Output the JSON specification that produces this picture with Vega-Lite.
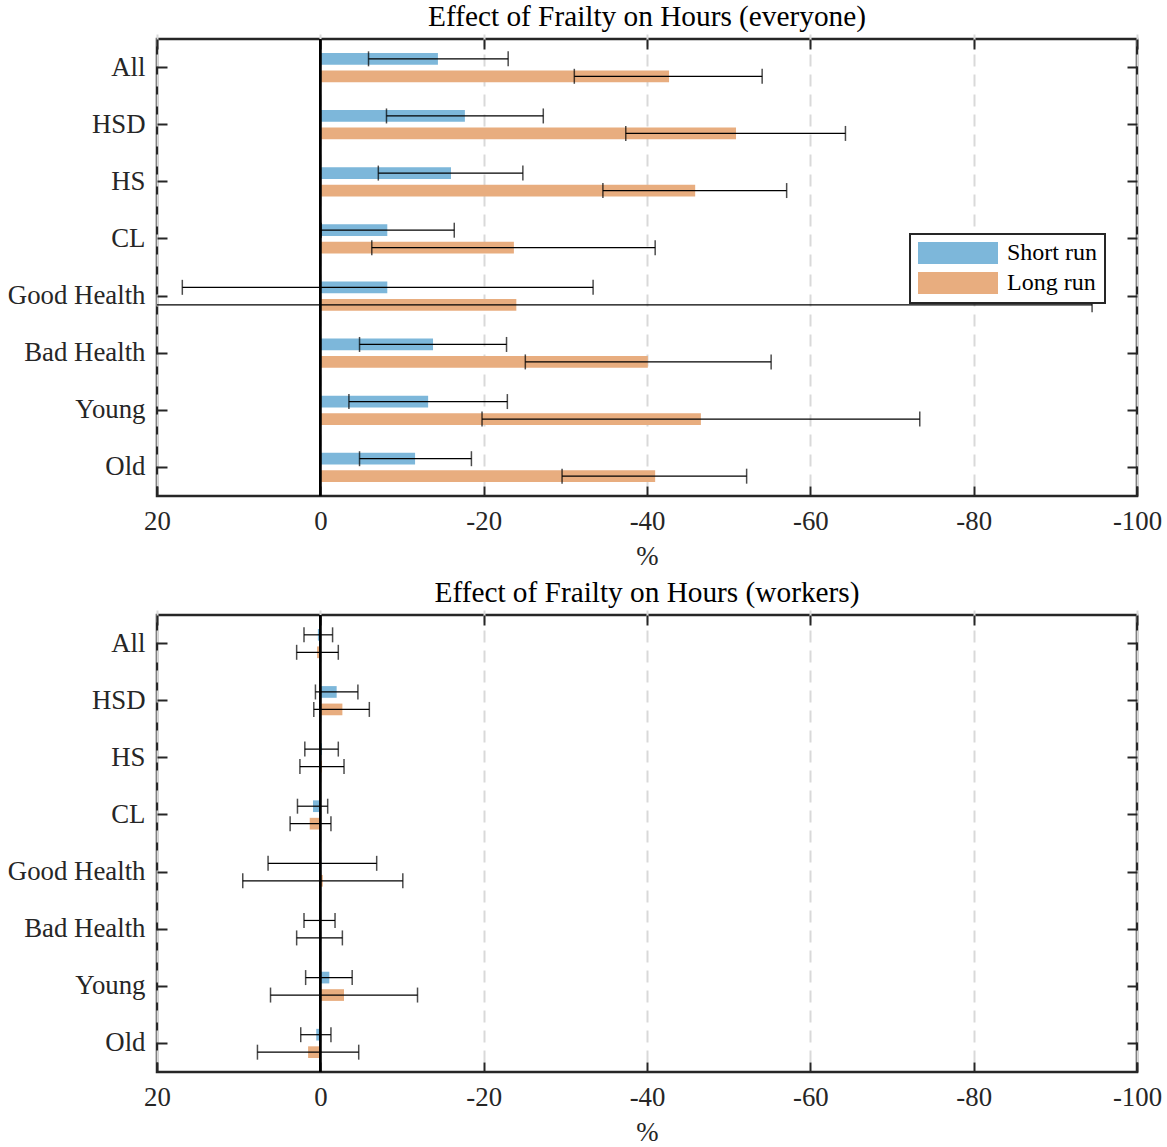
{
  "$schema": "https://vega.github.io/schema/vega-lite/v6.json",
  "padding": {"left": 6, "top": 1, "right": 3, "bottom": 0},
  "background": "white",
  "config": {
    "font": "Liberation Serif",
    "view": {"stroke": "#262626", "strokeWidth": 2.5},
    "axis": {
      "labelFont": "Liberation Serif",
      "labelFontSize": 26.8,
      "labelColor": "#262626",
      "labelFlush": false,
      "tickColor": "#262626",
      "tickWidth": 2,
      "tickSize": 10,
      "offset": -10,
      "domain": false,
      "titleFont": "Liberation Serif",
      "titleFontSize": 26.8,
      "titleFontWeight": "normal",
      "titleColor": "#262626"
    },
    "title": {"font": "Liberation Serif", "fontSize": 29.3, "fontWeight": "normal", "color": "#000000", "baseline": "alphabetic", "offset": 6},
    "legend": {"labelFont": "Liberation Serif"}
  },
  "datasets": {
    "everyone": [
      {"group": "All", "run": "Short run", "value": -14.4, "lo": -5.9, "hi": -23.0},
      {"group": "All", "run": "Long run", "value": -42.7, "lo": -31.1, "hi": -54.1},
      {"group": "HSD", "run": "Short run", "value": -17.7, "lo": -8.1, "hi": -27.3},
      {"group": "HSD", "run": "Long run", "value": -50.9, "lo": -37.4, "hi": -64.3},
      {"group": "HS", "run": "Short run", "value": -16.0, "lo": -7.1, "hi": -24.8},
      {"group": "HS", "run": "Long run", "value": -45.9, "lo": -34.6, "hi": -57.1},
      {"group": "CL", "run": "Short run", "value": -8.2, "lo": -0.1, "hi": -16.4},
      {"group": "CL", "run": "Long run", "value": -23.7, "lo": -6.3, "hi": -41.0},
      {"group": "Good Health", "run": "Short run", "value": -8.2, "lo": 16.9, "hi": -33.4},
      {"group": "Good Health", "run": "Long run", "value": -24.0, "lo": 46.5, "hi": -94.5},
      {"group": "Bad Health", "run": "Short run", "value": -13.8, "lo": -4.8, "hi": -22.8},
      {"group": "Bad Health", "run": "Long run", "value": -40.1, "lo": -25.1, "hi": -55.2},
      {"group": "Young", "run": "Short run", "value": -13.2, "lo": -3.5, "hi": -22.9},
      {"group": "Young", "run": "Long run", "value": -46.6, "lo": -19.8, "hi": -73.4},
      {"group": "Old", "run": "Short run", "value": -11.6, "lo": -4.8, "hi": -18.5},
      {"group": "Old", "run": "Long run", "value": -41.0, "lo": -29.6, "hi": -52.2}
    ],
    "workers": [
      {"group": "All", "run": "Short run", "value": 0.3, "lo": 2.0, "hi": -1.5},
      {"group": "All", "run": "Long run", "value": 0.4, "lo": 2.9, "hi": -2.2},
      {"group": "HSD", "run": "Short run", "value": -2.0, "lo": 0.6, "hi": -4.6},
      {"group": "HSD", "run": "Long run", "value": -2.7, "lo": 0.8, "hi": -6.0},
      {"group": "HS", "run": "Short run", "value": -0.2, "lo": 1.9, "hi": -2.2},
      {"group": "HS", "run": "Long run", "value": -0.2, "lo": 2.5, "hi": -2.9},
      {"group": "CL", "run": "Short run", "value": 0.9, "lo": 2.8, "hi": -0.9},
      {"group": "CL", "run": "Long run", "value": 1.3, "lo": 3.7, "hi": -1.3},
      {"group": "Good Health", "run": "Short run", "value": -0.1, "lo": 6.4, "hi": -6.9},
      {"group": "Good Health", "run": "Long run", "value": -0.3, "lo": 9.5, "hi": -10.1},
      {"group": "Bad Health", "run": "Short run", "value": 0.1, "lo": 2.0, "hi": -1.8},
      {"group": "Bad Health", "run": "Long run", "value": 0.1, "lo": 2.9, "hi": -2.7},
      {"group": "Young", "run": "Short run", "value": -1.1, "lo": 1.8, "hi": -3.9},
      {"group": "Young", "run": "Long run", "value": -2.9, "lo": 6.1, "hi": -11.9},
      {"group": "Old", "run": "Short run", "value": 0.5, "lo": 2.4, "hi": -1.3},
      {"group": "Old", "run": "Long run", "value": 1.5, "lo": 7.7, "hi": -4.7}
    ]
  },
  "spacing": 5,
  "resolve": {"scale": {"color": "independent"}, "legend": {"color": "independent"}},
  "vconcat": [
    {
      "title": "Effect of Frailty on Hours (everyone)",
      "width": 980,
      "height": 457,
      "data": {"name": "everyone"},
      "resolve": {"axis": {"x": "independent", "y": "independent"}},
      "layer": [
        {
          "mark": {"type": "bar", "clip": true},
          "encoding": {
            "x": {"field": "value", "type": "quantitative", "title": "%",
              "scale": {"domain": [-100, 20], "reverse": true, "nice": false, "zero": false},
              "axis": {"values": [20, 0, -20, -40, -60, -80, -100], "labelExpr": "datum.value < 0 ? '-' + abs(datum.value) : '' + datum.value", "grid": true, "gridDash": [12, 8], "gridColor": "#d9d9d9", "gridWidth": 2, "labelPadding": 12, "titlePadding": 9}},
            "y": {"field": "group", "type": "nominal", "title": null,
              "scale": {"domain": ["All", "HSD", "HS", "CL", "Good Health", "Bad Health", "Young", "Old"], "paddingInner": 0, "paddingOuter": 0},
              "axis": {"labelPadding": 12}},
            "yOffset": {"field": "run", "type": "nominal", "scale": {"domain": ["Short run", "Long run"], "paddingInner": 0.33, "paddingOuter": 0.8}},
            "color": {"field": "run", "type": "nominal",
              "scale": {"domain": ["Short run", "Long run"], "range": ["#7DB7DA", "#E8AD7F"]},
              "legend": {"orient": "none", "legendX": 753, "legendY": 195, "title": null,
                "symbolType": "M-1,-0.275H1V0.275H-1Z", "symbolSize": 6400, "symbolStrokeWidth": 0, "symbolOpacity": 1,
                "labelFontSize": 24, "labelColor": "#000000", "labelOffset": 9, "strokeColor": "#262626", "fillColor": "white",
                "padding": 8, "rowPadding": 6, "clipHeight": 22,
                "encode": {"legend": {"update": {"strokeWidth": {"value": 2}}}}}}
          }
        },
        {
          "mark": {"type": "rule", "color": "black", "strokeWidth": 1.2, "clip": true},
          "encoding": {
            "x": {"field": "lo", "type": "quantitative",
              "scale": {"domain": [-100, 20], "reverse": true, "nice": false, "zero": false},
              "axis": {"orient": "top", "values": [20, 0, -20, -40, -60, -80, -100], "labels": false, "title": null, "grid": false}},
            "x2": {"field": "hi"},
            "y": {"field": "group", "type": "nominal", "scale": {"domain": ["All", "HSD", "HS", "CL", "Good Health", "Bad Health", "Young", "Old"], "paddingInner": 0, "paddingOuter": 0},
              "axis": {"orient": "right", "labels": false, "title": null}},
            "yOffset": {"field": "run", "type": "nominal", "scale": {"domain": ["Short run", "Long run"], "paddingInner": 0.33, "paddingOuter": 0.8}}
          }
        },
        {
          "mark": {"type": "tick", "orient": "vertical", "size": 15, "thickness": 1.5, "color": "black", "clip": true},
          "encoding": {
            "x": {"field": "lo", "type": "quantitative", "axis": null},
            "y": {"field": "group", "type": "nominal", "axis": null},
            "yOffset": {"field": "run", "type": "nominal"}
          }
        },
        {
          "mark": {"type": "tick", "orient": "vertical", "size": 15, "thickness": 1.5, "color": "black", "clip": true},
          "encoding": {
            "x": {"field": "hi", "type": "quantitative", "axis": null},
            "y": {"field": "group", "type": "nominal", "axis": null},
            "yOffset": {"field": "run", "type": "nominal"}
          }
        },
        {
          "mark": {"type": "rule", "color": "black", "strokeWidth": 1.5},
          "encoding": {"x": {"datum": 0, "type": "quantitative", "axis": null}}
        }
      ]
    },
    {
      "title": "Effect of Frailty on Hours (workers)",
      "width": 980,
      "height": 457,
      "data": {"name": "workers"},
      "resolve": {"axis": {"x": "independent", "y": "independent"}},
      "layer": [
        {
          "mark": {"type": "bar", "clip": true},
          "encoding": {
            "x": {"field": "value", "type": "quantitative", "title": "%",
              "scale": {"domain": [-100, 20], "reverse": true, "nice": false, "zero": false},
              "axis": {"values": [20, 0, -20, -40, -60, -80, -100], "labelExpr": "datum.value < 0 ? '-' + abs(datum.value) : '' + datum.value", "grid": true, "gridDash": [12, 8], "gridColor": "#d9d9d9", "gridWidth": 2, "labelPadding": 12, "titlePadding": 9}},
            "y": {"field": "group", "type": "nominal", "title": null,
              "scale": {"domain": ["All", "HSD", "HS", "CL", "Good Health", "Bad Health", "Young", "Old"], "paddingInner": 0, "paddingOuter": 0},
              "axis": {"labelPadding": 12}},
            "yOffset": {"field": "run", "type": "nominal", "scale": {"domain": ["Short run", "Long run"], "paddingInner": 0.33, "paddingOuter": 0.8}},
            "color": {"field": "run", "type": "nominal",
              "scale": {"domain": ["Short run", "Long run"], "range": ["#7DB7DA", "#E8AD7F"]},
              "legend": null}
          }
        },
        {
          "mark": {"type": "rule", "color": "black", "strokeWidth": 1.2, "clip": true},
          "encoding": {
            "x": {"field": "lo", "type": "quantitative",
              "scale": {"domain": [-100, 20], "reverse": true, "nice": false, "zero": false},
              "axis": {"orient": "top", "values": [20, 0, -20, -40, -60, -80, -100], "labels": false, "title": null, "grid": false}},
            "x2": {"field": "hi"},
            "y": {"field": "group", "type": "nominal", "scale": {"domain": ["All", "HSD", "HS", "CL", "Good Health", "Bad Health", "Young", "Old"], "paddingInner": 0, "paddingOuter": 0},
              "axis": {"orient": "right", "labels": false, "title": null}},
            "yOffset": {"field": "run", "type": "nominal", "scale": {"domain": ["Short run", "Long run"], "paddingInner": 0.33, "paddingOuter": 0.8}}
          }
        },
        {
          "mark": {"type": "tick", "orient": "vertical", "size": 15, "thickness": 1.5, "color": "black", "clip": true},
          "encoding": {
            "x": {"field": "lo", "type": "quantitative", "axis": null},
            "y": {"field": "group", "type": "nominal", "axis": null},
            "yOffset": {"field": "run", "type": "nominal"}
          }
        },
        {
          "mark": {"type": "tick", "orient": "vertical", "size": 15, "thickness": 1.5, "color": "black", "clip": true},
          "encoding": {
            "x": {"field": "hi", "type": "quantitative", "axis": null},
            "y": {"field": "group", "type": "nominal", "axis": null},
            "yOffset": {"field": "run", "type": "nominal"}
          }
        },
        {
          "mark": {"type": "rule", "color": "black", "strokeWidth": 1.5},
          "encoding": {"x": {"datum": 0, "type": "quantitative", "axis": null}}
        }
      ]
    }
  ]
}
